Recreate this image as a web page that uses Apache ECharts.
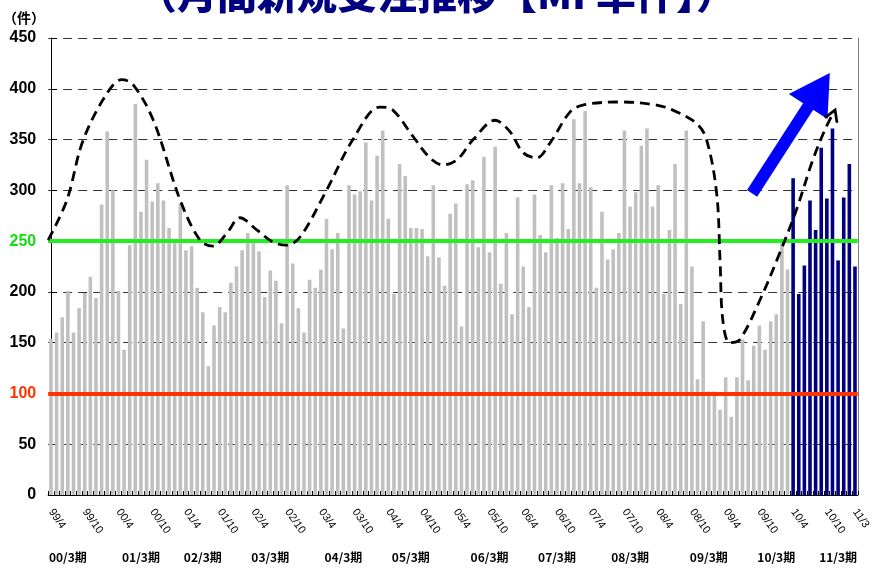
<!DOCTYPE html>
<html>
<head>
<meta charset="utf-8">
<script src="https://cdn.jsdelivr.net/npm/echarts@6/dist/echarts.min.js"></script>
<style>
html,body{margin:0;padding:0;background:#fff;}
#chart{width:873px;height:573px;}
</style>
</head>
<body>
<div id="chart"></div>
<script>
// 月間新規受注件数 99/4 ～ 11/3

var titleText = '（月間新規受注推移【MF単件】）';
var unitText = '（件）';

// 月ラベル（99/4 から 144ヶ月）
var firstYear = 1999, firstMonth = 4, monthCount = 144;
var months = [];
for (var i = 0; i < monthCount; i++) {
	var n = firstMonth - 1 + i;
	months.push(String((firstYear + Math.floor(n / 12)) % 100).padStart(2, '0') + '/' + (n % 12 + 1));
}

// 期ラベルとその位置（月インデックス）
var periodLabels = ['00/3期','01/3期','02/3期','03/3期','04/3期','05/3期','06/3期','07/3期','08/3期','09/3期','10/3期','11/3期'];
var periodIdx = [3, 16, 27, 39, 52, 64, 78, 90, 103, 117, 129, 140];

// 99/4 ～ 10/3 の受注件数（灰色）
var pastOrders = [
	154,160,175,201,160,184,199,215,194,286,358,300,
	201,143,246,385,279,330,289,307,290,263,248,287,
	241,245,204,180,127,167,185,180,209,225,241,258,
	250,240,195,221,211,169,305,228,184,160,212,204,
	222,272,242,258,164,305,296,299,347,290,334,359,
	272,198,326,314,263,263,262,235,305,234,206,277,
	287,166,306,310,244,333,239,343,208,258,178,293,
	225,185,296,256,239,305,253,307,262,370,307,378,
	303,204,279,232,242,258,359,284,298,344,361,284,
	305,198,261,326,188,359,225,114,171,102,102,84,
	116,77,116,153,113,147,167,143,171,178,248,222
];
// 10/4 ～ 11/3 の受注件数（紺）
var recentOrders = [312,198,226,290,261,342,292,361,231,293,326,225];

// 目安ライン
var goodLevel = 250;
var lowLevel = 100;

// トレンド曲線（月位置, 件数）
var trendX = [-0.5, 2.8, 5.7, 9.9, 12.6, 14.6, 18.2, 23, 26.5, 28.8, 31.3, 33.6, 36.6, 39.5, 41.9, 44.3,
	49, 53.7, 58.5, 60.8, 64.4, 67.4, 69.7, 72.2, 75.1, 79, 81.6, 84, 86.4, 88.8, 92.3, 94.6,
	101.2, 107.7, 110.6, 114.8, 116.6, 118.4, 119, 119.5, 120.7, 122.5, 126.1, 129.6, 132.6, 135.5, 137.6, 139.1];
var trendY = [251, 290, 349, 395, 409, 404, 369, 290, 251, 245, 258, 273, 261, 249, 246, 254,
	300, 350, 382, 379, 353, 332, 325, 330, 350, 369, 358, 337, 332, 347, 377, 384,
	387, 384, 379, 366, 350, 297, 231, 172, 150, 153, 192, 238, 281, 330, 359, 376];

// 上昇矢印（月位置, 件数）
var arrowFrom = [124.7, 297];
var arrowTo = [136.6, 399];

var myChart = echarts.init(document.getElementById('chart'));

var barData = [];
for (var i = 0; i < monthCount; i++) {
	var recent = i >= pastOrders.length;
	barData.push({
		value: recent ? recentOrders[i - pastOrders.length] : pastOrders[i],
		itemStyle: {color: recent ? '#000080' : '#c0c0c0'}
	});
}

var trendData = [];
for (var i = 0; i < trendX.length; i++) {
	trendData.push([trendX[i], trendY[i]]);
}
// 曲線の終端に矢じり
trendData[trendData.length - 1] = {
	value: [trendX[trendX.length - 1], trendY[trendY.length - 1]],
	symbol: 'path://M0,10 L6,0 L12,10',
	symbolSize: [13, 11],
	symbolRotate: -22,
	symbolOffset: [0, 2],
	itemStyle: {color: 'rgba(0,0,0,0)', borderColor: '#000', borderWidth: 2.6}
};

var option = {
	animation: false,
	title: {
		text: titleText,
		left: 'center',
		top: -31,
		textStyle: {
			fontFamily: 'Noto Sans CJK JP',
			fontSize: 40,
			fontWeight: 900,
			color: '#000080'
		}
	},
	grid: {left: 48, right: 15, top: 38, bottom: 78},
	xAxis: [
		{
			type: 'category',
			data: months,
			boundaryGap: true,
			axisLine: {lineStyle: {color: '#000', width: 1}},
			axisTick: {show: true, inside: true, length: 4, interval: 0, lineStyle: {color: '#000'}},
			axisLabel: {
				interval: function(idx) { return idx % 6 === 0 || idx === monthCount - 1; },
				rotate: -55,
				margin: 15,
				fontSize: 11,
				color: '#000',
				fontFamily: 'Liberation Sans'
			},
			splitLine: {show: false}
		},
		{
			type: 'category',
			data: months,
			position: 'bottom',
			offset: 52,
			axisLine: {show: false},
			axisTick: {show: false},
			axisLabel: {
				interval: function(idx) { return periodIdx.indexOf(idx) >= 0; },
				formatter: function(v, idx) { return periodLabels[periodIdx.indexOf(idx)]; },
				margin: 4,
				fontSize: 12,
				fontWeight: 'bold',
				color: '#000',
				fontFamily: 'Noto Sans CJK JP'
			},
			splitLine: {show: false}
		},
		{
			type: 'value',
			min: -0.5,
			max: monthCount - 0.5,
			show: false
		}
	],
	yAxis: [
		{
			type: 'value',
			min: 0,
			max: 450,
			interval: 50,
			name: unitText,
			nameLocation: 'end',
			nameGap: 13,
			nameTextStyle: {
				align: 'right',
				padding: [0, 6, 0, 0],
				fontSize: 14,
				fontWeight: 'bold',
				color: '#000',
				fontFamily: 'Noto Sans CJK JP'
			},
			axisLine: {show: true, lineStyle: {color: '#000', width: 1}},
			axisTick: {show: true, inside: true, length: 6, lineStyle: {color: '#000'}},
			axisLabel: {
				margin: 12,
				fontSize: 16,
				fontWeight: 'bold',
				fontFamily: 'Liberation Sans',
				color: function(v) {
					if (Number(v) === goodLevel) return '#11dd11';
					if (Number(v) === lowLevel) return '#ff3300';
					return '#000';
				}
			},
			splitLine: {show: true, lineStyle: {color: '#333', width: 1, type: [9, 6]}}
		},
		{
			type: 'value',
			min: 0,
			max: 450,
			interval: 50,
			position: 'right',
			axisLine: {show: true, lineStyle: {color: '#808080', width: 1}},
			axisTick: {show: false},
			axisLabel: {show: false},
			splitLine: {show: false}
		}
	],
	series: [
		{
			name: '受注件数',
			type: 'bar',
			xAxisIndex: 0,
			yAxisIndex: 0,
			barWidth: '64%',
			data: barData,
			markLine: {
				silent: true,
				symbol: 'none',
				label: {show: false},
				data: [
					{yAxis: goodLevel, lineStyle: {color: '#22ee22', width: 4, type: 'solid'}},
					{yAxis: lowLevel, lineStyle: {color: '#ff3300', width: 4, type: 'solid'}}
				]
			}
		},
		{
			name: 'トレンド',
			type: 'line',
			xAxisIndex: 2,
			yAxisIndex: 0,
			smooth: 0.35,
			symbol: 'none',
			showSymbol: true,
			z: 5,
			lineStyle: {color: '#000', width: 2.8, type: [10, 6]},
			data: trendData,
			markLine: {
				silent: true,
				symbol: ['none', 'triangle'],
				symbolSize: [46, 40],
				label: {show: false},
				lineStyle: {color: '#0000ff', width: 12, type: 'solid'},
				itemStyle: {color: '#0000ff'},
				data: [[{coord: arrowFrom}, {coord: arrowTo}]]
			}
		}
	]
};
myChart.setOption(option);
window.onresize = myChart.resize;
</script>
</body>
</html>
